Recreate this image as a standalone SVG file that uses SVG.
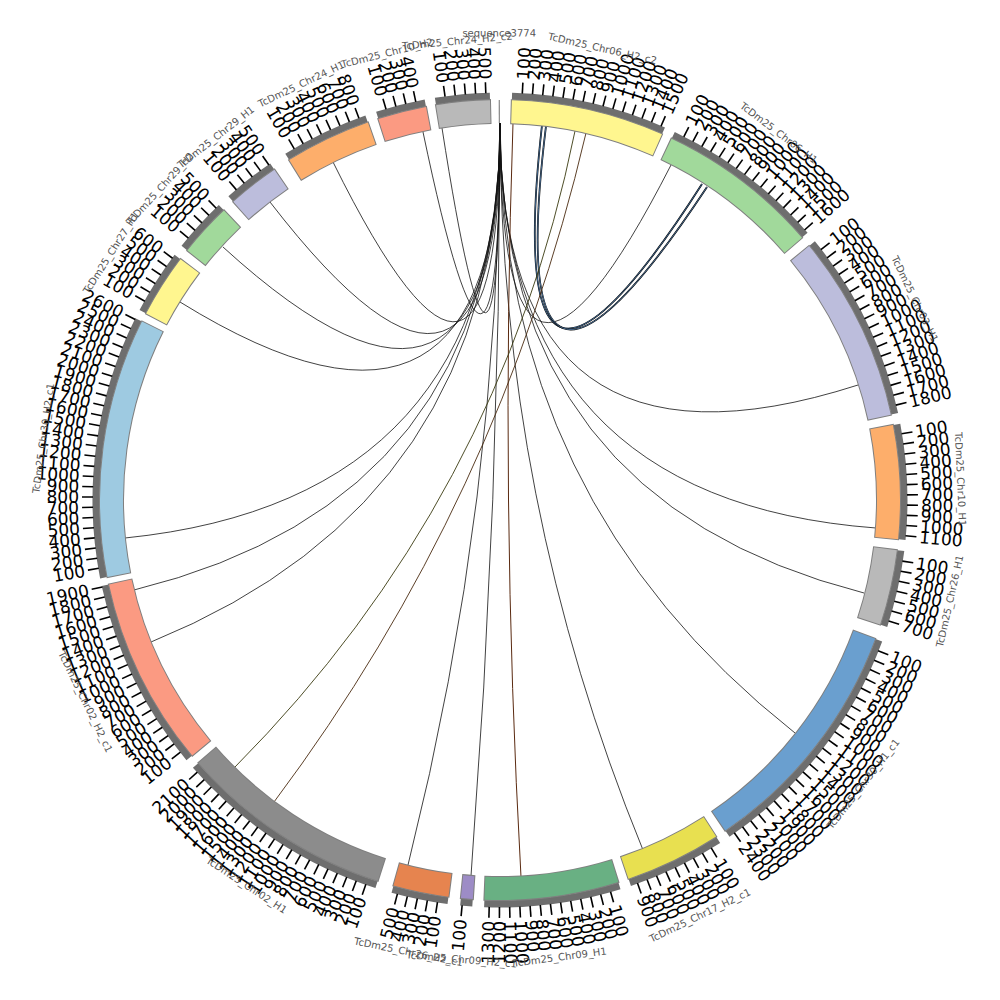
<svg xmlns="http://www.w3.org/2000/svg" xmlns:xlink="http://www.w3.org/1999/xlink" width="1000" height="1000" viewBox="0 0 1000 1000">
<style>
.bd{fill:none;stroke:#7f7f7f;stroke-width:25}
.fl{fill:none;stroke-width:23}
.bn{fill:none;stroke:#6e6e6e;stroke-width:7}
.o,.i{font-family:"DejaVu Sans",sans-serif;font-size:17px;fill:#000;dominant-baseline:central}
.o{text-anchor:start}
.i{text-anchor:end}
.nm{font-family:"DejaVu Sans",sans-serif;font-size:10px;fill:#555;text-anchor:middle;dominant-baseline:central}
.lk path{fill:none;stroke:#111;stroke-width:0.8}
path.cs{stroke:#000;stroke-width:1.8}
</style>
<defs>
<line id="tk" x1="0" y1="-407" x2="0" y2="-418" stroke="#000" stroke-width="1.6"/>
</defs>
<rect width="1000" height="1000" fill="#fff"/>
<g id="connectors" class="lk">
<path d="M500 123Q500 500 442 128"/>
<path d="M500 123Q500 500 423 132"/>
<path d="M500 123Q500 500 333 162"/>
<path d="M500 123Q500 500 270 202"/>
<path d="M500 123Q500 500 223 247"/>
<path d="M500 123Q500 500 180 302"/>
<path d="M500 123Q500 500 125 538"/>
<path d="M500 123Q500 500 134 590"/>
<path d="M500 123Q500 500 151 642"/>
<path d="M500 123Q500 500 408 865"/>
<path d="M500 123Q500 500 471 876"/>
<path d="M500 123Q500 500 643 850"/>
<path d="M500 123Q500 500 795 733"/>
<path d="M500 123Q500 500 864 593"/>
<path d="M500 123Q500 500 876 528"/>
<path d="M500 123Q500 500 858 385"/>
<path d="M500 123Q500 500 671 165"/>
<path d="M513 123Q500 500 521 877" style="stroke:#5a2a10;stroke-width:1"/>
<path class="cs" d="M542 125Q500 500 702 184"/>
<path d="M542 125Q500 500 702 184" style="stroke:#4d7aa8;stroke-width:0.8"/>
<path class="cs" d="M546 126Q500 500 707 187"/>
<path d="M546 126Q500 500 707 187" style="stroke:#5b84b0;stroke-width:0.8"/>
<path d="M575 131Q500 500 235 767" style="stroke:#3a3a10;stroke-width:0.9"/>
<path d="M586 133Q500 500 274 802" style="stroke:#4a2a10;stroke-width:0.9"/>
</g>
<g transform="translate(500 500)">
<g id="chr06_h2_c2" transform="rotate(1.7)">
<circle class="bn" r="404" stroke-dasharray="156.4 3000" transform="rotate(-90)"/>
<circle class="bd" r="388.5" stroke-dasharray="152.39 3000" transform="rotate(-90.15)"/>
<circle class="fl" r="388.5" stroke="#fff68f" stroke-dasharray="150.39 3000" transform="rotate(-90)"/>
<g transform="rotate(1.44)"><use href="#tk"/><text class="o" transform="translate(0 -421)rotate(-90)">100</text></g>
<g transform="rotate(2.88)"><use href="#tk"/><text class="o" transform="translate(0 -421)rotate(-90)">200</text></g>
<g transform="rotate(4.32)"><use href="#tk"/><text class="o" transform="translate(0 -421)rotate(-90)">300</text></g>
<g transform="rotate(5.76)"><use href="#tk"/><text class="o" transform="translate(0 -421)rotate(-90)">400</text></g>
<g transform="rotate(7.2)"><use href="#tk"/><text class="o" transform="translate(0 -421)rotate(-90)">500</text></g>
<g transform="rotate(8.64)"><use href="#tk"/><text class="o" transform="translate(0 -421)rotate(-90)">600</text></g>
<g transform="rotate(10.08)"><use href="#tk"/><text class="o" transform="translate(0 -421)rotate(-90)">700</text></g>
<g transform="rotate(11.52)"><use href="#tk"/><text class="o" transform="translate(0 -421)rotate(-90)">800</text></g>
<g transform="rotate(12.96)"><use href="#tk"/><text class="o" transform="translate(0 -421)rotate(-90)">900</text></g>
<g transform="rotate(14.4)"><use href="#tk"/><text class="o" transform="translate(0 -421)rotate(-90)">1000</text></g>
<g transform="rotate(15.84)"><use href="#tk"/><text class="o" transform="translate(0 -421)rotate(-90)">1100</text></g>
<g transform="rotate(17.28)"><use href="#tk"/><text class="o" transform="translate(0 -421)rotate(-90)">1200</text></g>
<g transform="rotate(18.72)"><use href="#tk"/><text class="o" transform="translate(0 -421)rotate(-90)">1300</text></g>
<g transform="rotate(20.16)"><use href="#tk"/><text class="o" transform="translate(0 -421)rotate(-90)">1400</text></g>
<g transform="rotate(21.6)"><use href="#tk"/><text class="o" transform="translate(0 -421)rotate(-90)">1500</text></g>
<text class="nm" transform="rotate(11.09)translate(0 -463)">TcDm25_Chr06_H2_c2</text>
</g>
<g id="chr06_h1" transform="rotate(25.4)">
<circle class="bn" r="404" stroke-dasharray="166.5 3000" transform="rotate(-90)"/>
<circle class="bd" r="388.5" stroke-dasharray="162.15 3000" transform="rotate(-90.15)"/>
<circle class="fl" r="388.5" stroke="#a1d99b" stroke-dasharray="160.15 3000" transform="rotate(-90)"/>
<g transform="rotate(1.44)"><use href="#tk"/><text class="o" transform="translate(0 -421)rotate(-90)">100</text></g>
<g transform="rotate(2.88)"><use href="#tk"/><text class="o" transform="translate(0 -421)rotate(-90)">200</text></g>
<g transform="rotate(4.32)"><use href="#tk"/><text class="o" transform="translate(0 -421)rotate(-90)">300</text></g>
<g transform="rotate(5.76)"><use href="#tk"/><text class="o" transform="translate(0 -421)rotate(-90)">400</text></g>
<g transform="rotate(7.2)"><use href="#tk"/><text class="o" transform="translate(0 -421)rotate(-90)">500</text></g>
<g transform="rotate(8.64)"><use href="#tk"/><text class="o" transform="translate(0 -421)rotate(-90)">600</text></g>
<g transform="rotate(10.08)"><use href="#tk"/><text class="o" transform="translate(0 -421)rotate(-90)">700</text></g>
<g transform="rotate(11.52)"><use href="#tk"/><text class="o" transform="translate(0 -421)rotate(-90)">800</text></g>
<g transform="rotate(12.96)"><use href="#tk"/><text class="o" transform="translate(0 -421)rotate(-90)">900</text></g>
<g transform="rotate(14.4)"><use href="#tk"/><text class="o" transform="translate(0 -421)rotate(-90)">1000</text></g>
<g transform="rotate(15.84)"><use href="#tk"/><text class="o" transform="translate(0 -421)rotate(-90)">1100</text></g>
<g transform="rotate(17.28)"><use href="#tk"/><text class="o" transform="translate(0 -421)rotate(-90)">1200</text></g>
<g transform="rotate(18.72)"><use href="#tk"/><text class="o" transform="translate(0 -421)rotate(-90)">1300</text></g>
<g transform="rotate(20.16)"><use href="#tk"/><text class="o" transform="translate(0 -421)rotate(-90)">1400</text></g>
<g transform="rotate(21.6)"><use href="#tk"/><text class="o" transform="translate(0 -421)rotate(-90)">1500</text></g>
<g transform="rotate(23.04)"><use href="#tk"/><text class="o" transform="translate(0 -421)rotate(-90)">1600</text></g>
<text class="nm" transform="rotate(11.81)translate(0 -461)">TcDm25_Chr06_H1</text>
</g>
<g id="chr03_h1" transform="rotate(50.6)">
<circle class="bn" r="404" stroke-dasharray="190.9 3000" transform="rotate(-90)"/>
<circle class="bd" r="388.5" stroke-dasharray="185.55 3000" transform="rotate(-90.15)"/>
<circle class="fl" r="388.5" stroke="#bcbddc" stroke-dasharray="183.55 3000" transform="rotate(-90)"/>
<g transform="rotate(1.44)"><use href="#tk"/><text class="o" transform="translate(0 -421)rotate(-90)">100</text></g>
<g transform="rotate(2.88)"><use href="#tk"/><text class="o" transform="translate(0 -421)rotate(-90)">200</text></g>
<g transform="rotate(4.32)"><use href="#tk"/><text class="o" transform="translate(0 -421)rotate(-90)">300</text></g>
<g transform="rotate(5.76)"><use href="#tk"/><text class="o" transform="translate(0 -421)rotate(-90)">400</text></g>
<g transform="rotate(7.2)"><use href="#tk"/><text class="o" transform="translate(0 -421)rotate(-90)">500</text></g>
<g transform="rotate(8.64)"><use href="#tk"/><text class="o" transform="translate(0 -421)rotate(-90)">600</text></g>
<g transform="rotate(10.08)"><use href="#tk"/><text class="o" transform="translate(0 -421)rotate(-90)">700</text></g>
<g transform="rotate(11.52)"><use href="#tk"/><text class="o" transform="translate(0 -421)rotate(-90)">800</text></g>
<g transform="rotate(12.96)"><use href="#tk"/><text class="o" transform="translate(0 -421)rotate(-90)">900</text></g>
<g transform="rotate(14.4)"><use href="#tk"/><text class="o" transform="translate(0 -421)rotate(-90)">1000</text></g>
<g transform="rotate(15.84)"><use href="#tk"/><text class="o" transform="translate(0 -421)rotate(-90)">1100</text></g>
<g transform="rotate(17.28)"><use href="#tk"/><text class="o" transform="translate(0 -421)rotate(-90)">1200</text></g>
<g transform="rotate(18.72)"><use href="#tk"/><text class="o" transform="translate(0 -421)rotate(-90)">1300</text></g>
<g transform="rotate(20.16)"><use href="#tk"/><text class="o" transform="translate(0 -421)rotate(-90)">1400</text></g>
<g transform="rotate(21.6)"><use href="#tk"/><text class="o" transform="translate(0 -421)rotate(-90)">1500</text></g>
<g transform="rotate(23.04)"><use href="#tk"/><text class="o" transform="translate(0 -421)rotate(-90)">1600</text></g>
<g transform="rotate(24.48)"><use href="#tk"/><text class="o" transform="translate(0 -421)rotate(-90)">1700</text></g>
<g transform="rotate(25.92)"><use href="#tk"/><text class="o" transform="translate(0 -421)rotate(-90)">1800</text></g>
<text class="nm" transform="rotate(13.54)translate(0 -461)">TcDm25_Chr03_H1</text>
</g>
<g id="chr10_h1" transform="rotate(79.2)">
<circle class="bn" r="404" stroke-dasharray="115.8 3000" transform="rotate(-90)"/>
<circle class="bd" r="388.5" stroke-dasharray="113.34 3000" transform="rotate(-90.15)"/>
<circle class="fl" r="388.5" stroke="#fdae6b" stroke-dasharray="111.34 3000" transform="rotate(-90)"/>
<g transform="rotate(1.44)"><use href="#tk"/><text class="o" transform="translate(0 -421)rotate(-90)">100</text></g>
<g transform="rotate(2.88)"><use href="#tk"/><text class="o" transform="translate(0 -421)rotate(-90)">200</text></g>
<g transform="rotate(4.32)"><use href="#tk"/><text class="o" transform="translate(0 -421)rotate(-90)">300</text></g>
<g transform="rotate(5.76)"><use href="#tk"/><text class="o" transform="translate(0 -421)rotate(-90)">400</text></g>
<g transform="rotate(7.2)"><use href="#tk"/><text class="o" transform="translate(0 -421)rotate(-90)">500</text></g>
<g transform="rotate(8.64)"><use href="#tk"/><text class="o" transform="translate(0 -421)rotate(-90)">600</text></g>
<g transform="rotate(10.08)"><use href="#tk"/><text class="o" transform="translate(0 -421)rotate(-90)">700</text></g>
<g transform="rotate(11.52)"><use href="#tk"/><text class="o" transform="translate(0 -421)rotate(-90)">800</text></g>
<g transform="rotate(12.96)"><use href="#tk"/><text class="o" transform="translate(0 -421)rotate(-90)">900</text></g>
<g transform="rotate(14.4)"><use href="#tk"/><text class="o" transform="translate(0 -421)rotate(-90)">1000</text></g>
<g transform="rotate(15.84)"><use href="#tk"/><text class="o" transform="translate(0 -421)rotate(-90)">1100</text></g>
<text class="nm" transform="rotate(8.21)translate(0 -461)">TcDm25_Chr10_H1</text>
</g>
<g id="chr26_h1" transform="rotate(97.2)">
<circle class="bn" r="404" stroke-dasharray="77.2 3000" transform="rotate(-90)"/>
<circle class="bd" r="388.5" stroke-dasharray="76.18 3000" transform="rotate(-90.15)"/>
<circle class="fl" r="388.5" stroke="#b9b9b9" stroke-dasharray="74.18 3000" transform="rotate(-90)"/>
<g transform="rotate(1.44)"><use href="#tk"/><text class="o" transform="translate(0 -421)rotate(-90)">100</text></g>
<g transform="rotate(2.88)"><use href="#tk"/><text class="o" transform="translate(0 -421)rotate(-90)">200</text></g>
<g transform="rotate(4.32)"><use href="#tk"/><text class="o" transform="translate(0 -421)rotate(-90)">300</text></g>
<g transform="rotate(5.76)"><use href="#tk"/><text class="o" transform="translate(0 -421)rotate(-90)">400</text></g>
<g transform="rotate(7.2)"><use href="#tk"/><text class="o" transform="translate(0 -421)rotate(-90)">500</text></g>
<g transform="rotate(8.64)"><use href="#tk"/><text class="o" transform="translate(0 -421)rotate(-90)">600</text></g>
<g transform="rotate(10.08)"><use href="#tk"/><text class="o" transform="translate(0 -421)rotate(-90)">700</text></g>
<text class="nm" transform="rotate(5.47)translate(0 -461)rotate(180)">TcDm25_Chr26_H1</text>
</g>
<g id="chr30_h1_c1" transform="rotate(110.3)">
<circle class="bn" r="404" stroke-dasharray="249.7 3000" transform="rotate(-90)"/>
<circle class="bd" r="388.5" stroke-dasharray="242.17 3000" transform="rotate(-90.15)"/>
<circle class="fl" r="388.5" stroke="#6a9fcf" stroke-dasharray="240.17 3000" transform="rotate(-90)"/>
<g transform="rotate(1.44)"><use href="#tk"/><text class="o" transform="translate(0 -421)rotate(-90)">100</text></g>
<g transform="rotate(2.88)"><use href="#tk"/><text class="o" transform="translate(0 -421)rotate(-90)">200</text></g>
<g transform="rotate(4.32)"><use href="#tk"/><text class="o" transform="translate(0 -421)rotate(-90)">300</text></g>
<g transform="rotate(5.76)"><use href="#tk"/><text class="o" transform="translate(0 -421)rotate(-90)">400</text></g>
<g transform="rotate(7.2)"><use href="#tk"/><text class="o" transform="translate(0 -421)rotate(-90)">500</text></g>
<g transform="rotate(8.64)"><use href="#tk"/><text class="o" transform="translate(0 -421)rotate(-90)">600</text></g>
<g transform="rotate(10.08)"><use href="#tk"/><text class="o" transform="translate(0 -421)rotate(-90)">700</text></g>
<g transform="rotate(11.52)"><use href="#tk"/><text class="o" transform="translate(0 -421)rotate(-90)">800</text></g>
<g transform="rotate(12.96)"><use href="#tk"/><text class="o" transform="translate(0 -421)rotate(-90)">900</text></g>
<g transform="rotate(14.4)"><use href="#tk"/><text class="o" transform="translate(0 -421)rotate(-90)">1000</text></g>
<g transform="rotate(15.84)"><use href="#tk"/><text class="o" transform="translate(0 -421)rotate(-90)">1100</text></g>
<g transform="rotate(17.28)"><use href="#tk"/><text class="o" transform="translate(0 -421)rotate(-90)">1200</text></g>
<g transform="rotate(18.72)"><use href="#tk"/><text class="o" transform="translate(0 -421)rotate(-90)">1300</text></g>
<g transform="rotate(20.16)"><use href="#tk"/><text class="o" transform="translate(0 -421)rotate(-90)">1400</text></g>
<g transform="rotate(21.6)"><use href="#tk"/><text class="o" transform="translate(0 -421)rotate(-90)">1500</text></g>
<g transform="rotate(23.04)"><use href="#tk"/><text class="o" transform="translate(0 -421)rotate(-90)">1600</text></g>
<g transform="rotate(24.48)"><use href="#tk"/><text class="o" transform="translate(0 -421)rotate(-90)">1700</text></g>
<g transform="rotate(25.92)"><use href="#tk"/><text class="o" transform="translate(0 -421)rotate(-90)">1800</text></g>
<g transform="rotate(27.36)"><use href="#tk"/><text class="o" transform="translate(0 -421)rotate(-90)">1900</text></g>
<g transform="rotate(28.8)"><use href="#tk"/><text class="o" transform="translate(0 -421)rotate(-90)">2000</text></g>
<g transform="rotate(30.24)"><use href="#tk"/><text class="o" transform="translate(0 -421)rotate(-90)">2100</text></g>
<g transform="rotate(31.68)"><use href="#tk"/><text class="o" transform="translate(0 -421)rotate(-90)">2200</text></g>
<g transform="rotate(33.12)"><use href="#tk"/><text class="o" transform="translate(0 -421)rotate(-90)">2300</text></g>
<g transform="rotate(34.56)"><use href="#tk"/><text class="o" transform="translate(0 -421)rotate(-90)">2400</text></g>
<text class="nm" transform="rotate(17.71)translate(0 -461)rotate(180)">TcDm25_Chr30_H1_c1</text>
</g>
<g id="chr17_h2_c1" transform="rotate(147.3)">
<circle class="bn" r="404" stroke-dasharray="98.5 3000" transform="rotate(-90)"/>
<circle class="bd" r="388.5" stroke-dasharray="96.73 3000" transform="rotate(-90.15)"/>
<circle class="fl" r="388.5" stroke="#e8e050" stroke-dasharray="94.73 3000" transform="rotate(-90)"/>
<g transform="rotate(1.44)"><use href="#tk"/><text class="o" transform="translate(0 -421)rotate(-90)">100</text></g>
<g transform="rotate(2.88)"><use href="#tk"/><text class="o" transform="translate(0 -421)rotate(-90)">200</text></g>
<g transform="rotate(4.32)"><use href="#tk"/><text class="o" transform="translate(0 -421)rotate(-90)">300</text></g>
<g transform="rotate(5.76)"><use href="#tk"/><text class="o" transform="translate(0 -421)rotate(-90)">400</text></g>
<g transform="rotate(7.2)"><use href="#tk"/><text class="o" transform="translate(0 -421)rotate(-90)">500</text></g>
<g transform="rotate(8.64)"><use href="#tk"/><text class="o" transform="translate(0 -421)rotate(-90)">600</text></g>
<g transform="rotate(10.08)"><use href="#tk"/><text class="o" transform="translate(0 -421)rotate(-90)">700</text></g>
<g transform="rotate(11.52)"><use href="#tk"/><text class="o" transform="translate(0 -421)rotate(-90)">800</text></g>
<g transform="rotate(12.96)"><use href="#tk"/><text class="o" transform="translate(0 -421)rotate(-90)">900</text></g>
<text class="nm" transform="rotate(6.99)translate(0 -461)rotate(180)">TcDm25_Chr17_H2_c1</text>
</g>
<g id="chr09_h1" transform="rotate(162.8)">
<circle class="bn" r="404" stroke-dasharray="137.1 3000" transform="rotate(-90)"/>
<circle class="bd" r="388.5" stroke-dasharray="133.81 3000" transform="rotate(-90.15)"/>
<circle class="fl" r="388.5" stroke="#69b083" stroke-dasharray="131.81 3000" transform="rotate(-90)"/>
<g transform="rotate(1.44)"><use href="#tk"/><text class="o" transform="translate(0 -421)rotate(-90)">100</text></g>
<g transform="rotate(2.88)"><use href="#tk"/><text class="o" transform="translate(0 -421)rotate(-90)">200</text></g>
<g transform="rotate(4.32)"><use href="#tk"/><text class="o" transform="translate(0 -421)rotate(-90)">300</text></g>
<g transform="rotate(5.76)"><use href="#tk"/><text class="o" transform="translate(0 -421)rotate(-90)">400</text></g>
<g transform="rotate(7.2)"><use href="#tk"/><text class="o" transform="translate(0 -421)rotate(-90)">500</text></g>
<g transform="rotate(8.64)"><use href="#tk"/><text class="o" transform="translate(0 -421)rotate(-90)">600</text></g>
<g transform="rotate(10.08)"><use href="#tk"/><text class="o" transform="translate(0 -421)rotate(-90)">700</text></g>
<g transform="rotate(11.52)"><use href="#tk"/><text class="o" transform="translate(0 -421)rotate(-90)">800</text></g>
<g transform="rotate(12.96)"><use href="#tk"/><text class="o" transform="translate(0 -421)rotate(-90)">900</text></g>
<g transform="rotate(14.4)"><use href="#tk"/><text class="o" transform="translate(0 -421)rotate(-90)">1000</text></g>
<g transform="rotate(15.84)"><use href="#tk"/><text class="o" transform="translate(0 -421)rotate(-90)">1100</text></g>
<g transform="rotate(17.28)"><use href="#tk"/><text class="i" transform="translate(0 -421)rotate(90)">1200</text></g>
<g transform="rotate(18.72)"><use href="#tk"/><text class="i" transform="translate(0 -421)rotate(90)">1300</text></g>
<text class="nm" transform="rotate(9.72)translate(0 -461)rotate(180)">TcDm25_Chr09_H1</text>
</g>
<g id="chr09_h2_c1" transform="rotate(183.9)">
<circle class="bn" r="404" stroke-dasharray="12.2 3000" transform="rotate(-90)"/>
<circle class="bd" r="388.5" stroke-dasharray="13.73 3000" transform="rotate(-90.15)"/>
<circle class="fl" r="388.5" stroke="#9d8cc6" stroke-dasharray="11.73 3000" transform="rotate(-90)"/>
<g transform="rotate(1.44)"><use href="#tk"/><text class="i" transform="translate(0 -421)rotate(90)">100</text></g>
<text class="nm" transform="rotate(0.87)translate(0 -461)rotate(180)">TcDm25_Chr09_H2_c1</text>
</g>
<g id="chr26_h2_c1" transform="rotate(187.4)">
<circle class="bn" r="404" stroke-dasharray="56.8 3000" transform="rotate(-90)"/>
<circle class="bd" r="388.5" stroke-dasharray="56.65 3000" transform="rotate(-90.15)"/>
<circle class="fl" r="388.5" stroke="#e6844f" stroke-dasharray="54.65 3000" transform="rotate(-90)"/>
<g transform="rotate(1.44)"><use href="#tk"/><text class="i" transform="translate(0 -421)rotate(90)">100</text></g>
<g transform="rotate(2.88)"><use href="#tk"/><text class="i" transform="translate(0 -421)rotate(90)">200</text></g>
<g transform="rotate(4.32)"><use href="#tk"/><text class="i" transform="translate(0 -421)rotate(90)">300</text></g>
<g transform="rotate(5.76)"><use href="#tk"/><text class="i" transform="translate(0 -421)rotate(90)">400</text></g>
<g transform="rotate(7.2)"><use href="#tk"/><text class="i" transform="translate(0 -421)rotate(90)">500</text></g>
<text class="nm" transform="rotate(4.03)translate(0 -461)rotate(180)">TcDm25_Chr26_H2_c1</text>
</g>
<g id="chr02_h1" transform="rotate(197.8)">
<circle class="bn" r="404" stroke-dasharray="219.3 3000" transform="rotate(-90)"/>
<circle class="bd" r="388.5" stroke-dasharray="212.88 3000" transform="rotate(-90.15)"/>
<circle class="fl" r="388.5" stroke="#8c8c8c" stroke-dasharray="210.88 3000" transform="rotate(-90)"/>
<g transform="rotate(1.44)"><use href="#tk"/><text class="i" transform="translate(0 -421)rotate(90)">100</text></g>
<g transform="rotate(2.88)"><use href="#tk"/><text class="i" transform="translate(0 -421)rotate(90)">200</text></g>
<g transform="rotate(4.32)"><use href="#tk"/><text class="i" transform="translate(0 -421)rotate(90)">300</text></g>
<g transform="rotate(5.76)"><use href="#tk"/><text class="i" transform="translate(0 -421)rotate(90)">400</text></g>
<g transform="rotate(7.2)"><use href="#tk"/><text class="i" transform="translate(0 -421)rotate(90)">500</text></g>
<g transform="rotate(8.64)"><use href="#tk"/><text class="i" transform="translate(0 -421)rotate(90)">600</text></g>
<g transform="rotate(10.08)"><use href="#tk"/><text class="i" transform="translate(0 -421)rotate(90)">700</text></g>
<g transform="rotate(11.52)"><use href="#tk"/><text class="i" transform="translate(0 -421)rotate(90)">800</text></g>
<g transform="rotate(12.96)"><use href="#tk"/><text class="i" transform="translate(0 -421)rotate(90)">900</text></g>
<g transform="rotate(14.4)"><use href="#tk"/><text class="i" transform="translate(0 -421)rotate(90)">1000</text></g>
<g transform="rotate(15.84)"><use href="#tk"/><text class="i" transform="translate(0 -421)rotate(90)">1100</text></g>
<g transform="rotate(17.28)"><use href="#tk"/><text class="i" transform="translate(0 -421)rotate(90)">1200</text></g>
<g transform="rotate(18.72)"><use href="#tk"/><text class="i" transform="translate(0 -421)rotate(90)">1300</text></g>
<g transform="rotate(20.16)"><use href="#tk"/><text class="i" transform="translate(0 -421)rotate(90)">1400</text></g>
<g transform="rotate(21.6)"><use href="#tk"/><text class="i" transform="translate(0 -421)rotate(90)">1500</text></g>
<g transform="rotate(23.04)"><use href="#tk"/><text class="i" transform="translate(0 -421)rotate(90)">1600</text></g>
<g transform="rotate(24.48)"><use href="#tk"/><text class="i" transform="translate(0 -421)rotate(90)">1700</text></g>
<g transform="rotate(25.92)"><use href="#tk"/><text class="i" transform="translate(0 -421)rotate(90)">1800</text></g>
<g transform="rotate(27.36)"><use href="#tk"/><text class="i" transform="translate(0 -421)rotate(90)">1900</text></g>
<g transform="rotate(28.8)"><use href="#tk"/><text class="i" transform="translate(0 -421)rotate(90)">2000</text></g>
<g transform="rotate(30.24)"><use href="#tk"/><text class="i" transform="translate(0 -421)rotate(90)">2100</text></g>
<text class="nm" transform="rotate(15.55)translate(0 -461)rotate(180)">TcDm25_Chr02_H1</text>
</g>
<g id="chr02_h2_c1" transform="rotate(230.3)">
<circle class="bn" r="404" stroke-dasharray="193.9 3000" transform="rotate(-90)"/>
<circle class="bd" r="388.5" stroke-dasharray="188.47 3000" transform="rotate(-90.15)"/>
<circle class="fl" r="388.5" stroke="#fb9a82" stroke-dasharray="186.47 3000" transform="rotate(-90)"/>
<g transform="rotate(1.44)"><use href="#tk"/><text class="i" transform="translate(0 -421)rotate(90)">100</text></g>
<g transform="rotate(2.88)"><use href="#tk"/><text class="i" transform="translate(0 -421)rotate(90)">200</text></g>
<g transform="rotate(4.32)"><use href="#tk"/><text class="i" transform="translate(0 -421)rotate(90)">300</text></g>
<g transform="rotate(5.76)"><use href="#tk"/><text class="i" transform="translate(0 -421)rotate(90)">400</text></g>
<g transform="rotate(7.2)"><use href="#tk"/><text class="i" transform="translate(0 -421)rotate(90)">500</text></g>
<g transform="rotate(8.64)"><use href="#tk"/><text class="i" transform="translate(0 -421)rotate(90)">600</text></g>
<g transform="rotate(10.08)"><use href="#tk"/><text class="i" transform="translate(0 -421)rotate(90)">700</text></g>
<g transform="rotate(11.52)"><use href="#tk"/><text class="i" transform="translate(0 -421)rotate(90)">800</text></g>
<g transform="rotate(12.96)"><use href="#tk"/><text class="i" transform="translate(0 -421)rotate(90)">900</text></g>
<g transform="rotate(14.4)"><use href="#tk"/><text class="i" transform="translate(0 -421)rotate(90)">1000</text></g>
<g transform="rotate(15.84)"><use href="#tk"/><text class="i" transform="translate(0 -421)rotate(90)">1100</text></g>
<g transform="rotate(17.28)"><use href="#tk"/><text class="i" transform="translate(0 -421)rotate(90)">1200</text></g>
<g transform="rotate(18.72)"><use href="#tk"/><text class="i" transform="translate(0 -421)rotate(90)">1300</text></g>
<g transform="rotate(20.16)"><use href="#tk"/><text class="i" transform="translate(0 -421)rotate(90)">1400</text></g>
<g transform="rotate(21.6)"><use href="#tk"/><text class="i" transform="translate(0 -421)rotate(90)">1500</text></g>
<g transform="rotate(23.04)"><use href="#tk"/><text class="i" transform="translate(0 -421)rotate(90)">1600</text></g>
<g transform="rotate(24.48)"><use href="#tk"/><text class="i" transform="translate(0 -421)rotate(90)">1700</text></g>
<g transform="rotate(25.92)"><use href="#tk"/><text class="i" transform="translate(0 -421)rotate(90)">1800</text></g>
<g transform="rotate(27.36)"><use href="#tk"/><text class="i" transform="translate(0 -421)rotate(90)">1900</text></g>
<text class="nm" transform="rotate(13.75)translate(0 -461)rotate(180)">TcDm25_Chr02_H2_c1</text>
</g>
<g id="chr30_h2_c1" transform="rotate(258.9)">
<circle class="bn" r="404" stroke-dasharray="265 3000" transform="rotate(-90)"/>
<circle class="bd" r="388.5" stroke-dasharray="256.81 3000" transform="rotate(-90.15)"/>
<circle class="fl" r="388.5" stroke="#9ecae1" stroke-dasharray="254.81 3000" transform="rotate(-90)"/>
<g transform="rotate(1.44)"><use href="#tk"/><text class="i" transform="translate(0 -421)rotate(90)">100</text></g>
<g transform="rotate(2.88)"><use href="#tk"/><text class="i" transform="translate(0 -421)rotate(90)">200</text></g>
<g transform="rotate(4.32)"><use href="#tk"/><text class="i" transform="translate(0 -421)rotate(90)">300</text></g>
<g transform="rotate(5.76)"><use href="#tk"/><text class="i" transform="translate(0 -421)rotate(90)">400</text></g>
<g transform="rotate(7.2)"><use href="#tk"/><text class="i" transform="translate(0 -421)rotate(90)">500</text></g>
<g transform="rotate(8.64)"><use href="#tk"/><text class="i" transform="translate(0 -421)rotate(90)">600</text></g>
<g transform="rotate(10.08)"><use href="#tk"/><text class="i" transform="translate(0 -421)rotate(90)">700</text></g>
<g transform="rotate(11.52)"><use href="#tk"/><text class="i" transform="translate(0 -421)rotate(90)">800</text></g>
<g transform="rotate(12.96)"><use href="#tk"/><text class="i" transform="translate(0 -421)rotate(90)">900</text></g>
<g transform="rotate(14.4)"><use href="#tk"/><text class="i" transform="translate(0 -421)rotate(90)">1000</text></g>
<g transform="rotate(15.84)"><use href="#tk"/><text class="i" transform="translate(0 -421)rotate(90)">1100</text></g>
<g transform="rotate(17.28)"><use href="#tk"/><text class="i" transform="translate(0 -421)rotate(90)">1200</text></g>
<g transform="rotate(18.72)"><use href="#tk"/><text class="i" transform="translate(0 -421)rotate(90)">1300</text></g>
<g transform="rotate(20.16)"><use href="#tk"/><text class="i" transform="translate(0 -421)rotate(90)">1400</text></g>
<g transform="rotate(21.6)"><use href="#tk"/><text class="i" transform="translate(0 -421)rotate(90)">1500</text></g>
<g transform="rotate(23.04)"><use href="#tk"/><text class="i" transform="translate(0 -421)rotate(90)">1600</text></g>
<g transform="rotate(24.48)"><use href="#tk"/><text class="i" transform="translate(0 -421)rotate(90)">1700</text></g>
<g transform="rotate(25.92)"><use href="#tk"/><text class="i" transform="translate(0 -421)rotate(90)">1800</text></g>
<g transform="rotate(27.36)"><use href="#tk"/><text class="i" transform="translate(0 -421)rotate(90)">1900</text></g>
<g transform="rotate(28.8)"><use href="#tk"/><text class="i" transform="translate(0 -421)rotate(90)">2000</text></g>
<g transform="rotate(30.24)"><use href="#tk"/><text class="i" transform="translate(0 -421)rotate(90)">2100</text></g>
<g transform="rotate(31.68)"><use href="#tk"/><text class="i" transform="translate(0 -421)rotate(90)">2200</text></g>
<g transform="rotate(33.12)"><use href="#tk"/><text class="i" transform="translate(0 -421)rotate(90)">2300</text></g>
<g transform="rotate(34.56)"><use href="#tk"/><text class="i" transform="translate(0 -421)rotate(90)">2400</text></g>
<g transform="rotate(36)"><use href="#tk"/><text class="i" transform="translate(0 -421)rotate(90)">2500</text></g>
<g transform="rotate(37.44)"><use href="#tk"/><text class="i" transform="translate(0 -421)rotate(90)">2600</text></g>
<text class="nm" transform="rotate(18.79)translate(0 -461)">TcDm25_Chr30_H2_c1</text>
</g>
<g id="chr27_h1" transform="rotate(297.8)">
<circle class="bn" r="404" stroke-dasharray="65 3000" transform="rotate(-90)"/>
<circle class="bd" r="388.5" stroke-dasharray="64.52 3000" transform="rotate(-90.15)"/>
<circle class="fl" r="388.5" stroke="#fff68f" stroke-dasharray="62.52 3000" transform="rotate(-90)"/>
<g transform="rotate(1.44)"><use href="#tk"/><text class="i" transform="translate(0 -421)rotate(90)">100</text></g>
<g transform="rotate(2.88)"><use href="#tk"/><text class="i" transform="translate(0 -421)rotate(90)">200</text></g>
<g transform="rotate(4.32)"><use href="#tk"/><text class="i" transform="translate(0 -421)rotate(90)">300</text></g>
<g transform="rotate(5.76)"><use href="#tk"/><text class="i" transform="translate(0 -421)rotate(90)">400</text></g>
<g transform="rotate(7.2)"><use href="#tk"/><text class="i" transform="translate(0 -421)rotate(90)">500</text></g>
<g transform="rotate(8.64)"><use href="#tk"/><text class="i" transform="translate(0 -421)rotate(90)">600</text></g>
<text class="nm" transform="rotate(4.61)translate(0 -461)">TcDm25_Chr27_H1</text>
</g>
<g id="chr29_h2" transform="rotate(308.6)">
<circle class="bn" r="404" stroke-dasharray="54.9 3000" transform="rotate(-90)"/>
<circle class="bd" r="388.5" stroke-dasharray="54.75 3000" transform="rotate(-90.15)"/>
<circle class="fl" r="388.5" stroke="#a1d99b" stroke-dasharray="52.75 3000" transform="rotate(-90)"/>
<g transform="rotate(1.44)"><use href="#tk"/><text class="i" transform="translate(0 -421)rotate(90)">100</text></g>
<g transform="rotate(2.88)"><use href="#tk"/><text class="i" transform="translate(0 -421)rotate(90)">200</text></g>
<g transform="rotate(4.32)"><use href="#tk"/><text class="i" transform="translate(0 -421)rotate(90)">300</text></g>
<g transform="rotate(5.76)"><use href="#tk"/><text class="i" transform="translate(0 -421)rotate(90)">400</text></g>
<g transform="rotate(7.2)"><use href="#tk"/><text class="i" transform="translate(0 -421)rotate(90)">500</text></g>
<text class="nm" transform="rotate(3.89)translate(0 -461)">TcDm25_Chr29_H2</text>
</g>
<g id="chr29_h1" transform="rotate(318.2)">
<circle class="bn" r="404" stroke-dasharray="52.8 3000" transform="rotate(-90)"/>
<circle class="bd" r="388.5" stroke-dasharray="52.79 3000" transform="rotate(-90.15)"/>
<circle class="fl" r="388.5" stroke="#bcbddc" stroke-dasharray="50.79 3000" transform="rotate(-90)"/>
<g transform="rotate(1.44)"><use href="#tk"/><text class="i" transform="translate(0 -421)rotate(90)">100</text></g>
<g transform="rotate(2.88)"><use href="#tk"/><text class="i" transform="translate(0 -421)rotate(90)">200</text></g>
<g transform="rotate(4.32)"><use href="#tk"/><text class="i" transform="translate(0 -421)rotate(90)">300</text></g>
<g transform="rotate(5.76)"><use href="#tk"/><text class="i" transform="translate(0 -421)rotate(90)">400</text></g>
<g transform="rotate(7.2)"><use href="#tk"/><text class="i" transform="translate(0 -421)rotate(90)">500</text></g>
<text class="nm" transform="rotate(3.75)translate(0 -461)">TcDm25_Chr29_H1</text>
</g>
<g id="chr24_h1" transform="rotate(328.2)">
<circle class="bn" r="404" stroke-dasharray="88.3 3000" transform="rotate(-90)"/>
<circle class="bd" r="388.5" stroke-dasharray="86.96 3000" transform="rotate(-90.15)"/>
<circle class="fl" r="388.5" stroke="#fdae6b" stroke-dasharray="84.96 3000" transform="rotate(-90)"/>
<g transform="rotate(1.44)"><use href="#tk"/><text class="i" transform="translate(0 -421)rotate(90)">100</text></g>
<g transform="rotate(2.88)"><use href="#tk"/><text class="i" transform="translate(0 -421)rotate(90)">200</text></g>
<g transform="rotate(4.32)"><use href="#tk"/><text class="i" transform="translate(0 -421)rotate(90)">300</text></g>
<g transform="rotate(5.76)"><use href="#tk"/><text class="i" transform="translate(0 -421)rotate(90)">400</text></g>
<g transform="rotate(7.2)"><use href="#tk"/><text class="i" transform="translate(0 -421)rotate(90)">500</text></g>
<g transform="rotate(8.64)"><use href="#tk"/><text class="i" transform="translate(0 -421)rotate(90)">600</text></g>
<g transform="rotate(10.08)"><use href="#tk"/><text class="i" transform="translate(0 -421)rotate(90)">700</text></g>
<g transform="rotate(11.52)"><use href="#tk"/><text class="i" transform="translate(0 -421)rotate(90)">800</text></g>
<text class="nm" transform="rotate(6.27)translate(0 -461)">TcDm25_Chr24_H1</text>
</g>
<g id="chr10_h2" transform="rotate(342.3)">
<circle class="bn" r="404" stroke-dasharray="49.8 3000" transform="rotate(-90)"/>
<circle class="bd" r="388.5" stroke-dasharray="49.87 3000" transform="rotate(-90.15)"/>
<circle class="fl" r="388.5" stroke="#fb9a82" stroke-dasharray="47.87 3000" transform="rotate(-90)"/>
<g transform="rotate(1.44)"><use href="#tk"/><text class="i" transform="translate(0 -421)rotate(90)">100</text></g>
<g transform="rotate(2.88)"><use href="#tk"/><text class="i" transform="translate(0 -421)rotate(90)">200</text></g>
<g transform="rotate(4.32)"><use href="#tk"/><text class="i" transform="translate(0 -421)rotate(90)">300</text></g>
<g transform="rotate(5.76)"><use href="#tk"/><text class="i" transform="translate(0 -421)rotate(90)">400</text></g>
<text class="nm" transform="rotate(3.53)translate(0 -461)">TcDm25_Chr10_H2</text>
</g>
<g id="chr24_h2_c2" transform="rotate(350.8)">
<circle class="bn" r="404" stroke-dasharray="54.9 3000" transform="rotate(-90)"/>
<circle class="bd" r="388.5" stroke-dasharray="54.75 3000" transform="rotate(-90.15)"/>
<circle class="fl" r="388.5" stroke="#b9b9b9" stroke-dasharray="52.75 3000" transform="rotate(-90)"/>
<g transform="rotate(1.44)"><use href="#tk"/><text class="i" transform="translate(0 -421)rotate(90)">100</text></g>
<g transform="rotate(2.88)"><use href="#tk"/><text class="i" transform="translate(0 -421)rotate(90)">200</text></g>
<g transform="rotate(4.32)"><use href="#tk"/><text class="i" transform="translate(0 -421)rotate(90)">300</text></g>
<g transform="rotate(5.76)"><use href="#tk"/><text class="i" transform="translate(0 -421)rotate(90)">400</text></g>
<g transform="rotate(7.2)"><use href="#tk"/><text class="i" transform="translate(0 -421)rotate(90)">500</text></g>
<text class="nm" transform="rotate(3.89)translate(0 -461)">TcDm25_Chr24_H2_c2</text>
</g>
<g id="sequence3774" transform="rotate(359.9)">
<line x1="0" y1="-377" x2="0" y2="-400" stroke="#888" stroke-width="1.2"/>
<text class="nm" transform="translate(0 -467)">sequence3774</text>
</g>
</g>
</svg>
